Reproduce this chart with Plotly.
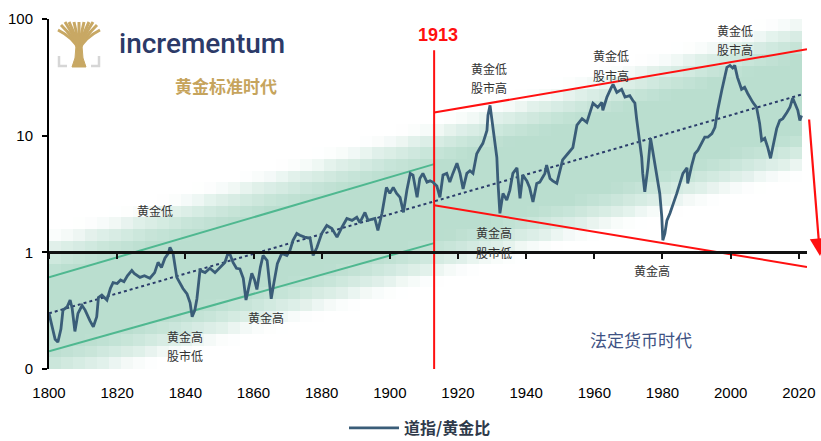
import numpy as np
import plotly.graph_objects as go

# Dow / gold ratio, 1800-2021 (year, ratio)
years = [
    1800.0, 1800.8, 1801.8, 1802.6, 1803.5, 1804.1, 1805.3, 1806.2, 1806.8, 1807.6,
    1808.5, 1809.7, 1810.6, 1812.0, 1813.0, 1814.0, 1814.5, 1815.5, 1817.0, 1818.0,
    1818.8, 1820.0, 1821.0, 1822.0, 1823.0, 1824.3, 1825.0, 1826.7, 1828.0, 1829.6,
    1831.0, 1832.0, 1833.0, 1834.0, 1835.0, 1835.5, 1836.4, 1837.5, 1838.4, 1839.3,
    1840.5, 1841.4, 1842.0, 1842.8, 1843.4, 1844.3, 1845.8, 1847.2, 1848.7, 1850.2,
    1851.6, 1852.5, 1853.0, 1854.0, 1855.0, 1856.0, 1857.0, 1857.8, 1858.5, 1859.5,
    1860.3, 1861.0, 1862.0, 1862.8, 1864.0, 1864.6, 1865.2, 1866.0, 1867.0, 1868.3,
    1869.8, 1870.7, 1871.6, 1872.7, 1873.6, 1875.0, 1876.6, 1877.5, 1878.6, 1880.0,
    1881.5, 1883.0, 1884.5, 1886.0, 1887.4, 1888.9, 1890.3, 1891.2, 1892.7, 1893.6,
    1895.6, 1896.5, 1897.7, 1899.0, 1900.0, 1901.0, 1902.0, 1903.0, 1904.0, 1905.0,
    1906.0, 1906.8, 1908.0, 1908.8, 1909.7, 1910.9, 1911.8, 1912.6, 1913.8, 1914.7,
    1915.6, 1916.7, 1917.6, 1918.5, 1919.7, 1920.6, 1921.5, 1922.6, 1923.5, 1924.4,
    1925.5, 1926.4, 1927.3, 1928.5, 1928.8, 1929.4, 1929.9, 1930.2, 1931.4, 1931.7,
    1932.3, 1933.2, 1934.3, 1935.2, 1936.1, 1937.3, 1938.2, 1939.0, 1940.2, 1941.0,
    1942.0, 1943.1, 1944.0, 1945.5, 1946.0, 1947.0, 1947.8, 1949.0, 1949.9, 1950.7,
    1952.2, 1953.7, 1954.9, 1956.4, 1957.8, 1958.7, 1959.6, 1961.0, 1962.2, 1962.5,
    1963.7, 1965.0, 1965.5, 1966.6, 1968.0, 1969.0, 1970.4, 1971.3, 1971.9, 1972.4,
    1973.3, 1973.9, 1974.2, 1974.8, 1975.7, 1976.5, 1977.1, 1978.3, 1979.2, 1979.8,
    1980.1, 1980.7, 1981.3, 1982.2, 1983.0, 1984.2, 1985.1, 1986.0, 1987.2, 1987.4,
    1988.6, 1989.5, 1990.4, 1991.5, 1992.4, 1993.3, 1994.5, 1995.4, 1996.2, 1997.4,
    1998.3, 1998.9, 1999.8, 2000.6, 2001.2, 2002.0, 2003.2, 2004.1, 2005.0, 2006.5,
    2007.6, 2008.5, 2009.1, 2010.0, 2010.9, 2011.7, 2012.3, 2013.5, 2014.4, 2015.3,
    2016.5, 2017.4, 2018.2, 2018.8, 2019.7, 2020.3, 2020.8,
]
ratio = [
    0.30, 0.24, 0.18, 0.17, 0.22, 0.32, 0.34, 0.39, 0.33, 0.21,
    0.30, 0.35, 0.32, 0.26, 0.23, 0.28, 0.41, 0.43, 0.39, 0.49,
    0.55, 0.54, 0.58, 0.56, 0.63, 0.70, 0.66, 0.61, 0.63, 0.60,
    0.67, 0.82, 0.74, 0.89, 0.98, 1.10, 0.98, 0.61, 0.55, 0.49,
    0.44, 0.37, 0.28, 0.32, 0.40, 0.70, 0.67, 0.73, 0.67, 0.74,
    0.82, 0.98, 0.98, 0.82, 0.73, 0.72, 0.60, 0.39, 0.50, 0.66,
    0.58, 0.48, 0.74, 0.94, 0.85, 0.60, 0.40, 0.55, 0.80, 0.98,
    0.94, 1.04, 1.27, 1.45, 1.40, 1.35, 1.32, 0.94, 1.10, 1.45,
    1.70, 1.60, 1.35, 1.65, 1.95, 1.88, 2.00, 1.80, 2.20, 1.88,
    1.95, 1.54, 2.16, 3.60, 3.20, 3.60, 3.20, 2.96, 2.20, 3.40,
    4.75, 4.60, 2.96, 4.30, 4.75, 4.00, 4.10, 4.00, 3.70, 2.96,
    4.60, 4.75, 4.00, 4.75, 5.80, 4.75, 3.50, 4.75, 5.00, 4.75,
    7.00, 7.80, 8.60, 11.1, 15.0, 18.2, 14.0, 11.1, 6.5, 4.1,
    2.16, 3.2, 2.8, 3.4, 4.75, 5.3, 2.9, 4.6, 4.1, 3.6,
    2.7, 3.9, 4.0, 4.75, 5.6, 4.3, 4.1, 3.9, 5.0, 6.2,
    7.0, 7.9, 12.3, 14.0, 13.0, 15.8, 19.0, 17.5, 19.3, 16.5,
    21.4, 25.9, 27.5, 23.5, 25.0, 21.4, 22.0, 20.0, 19.0, 14.0,
    9.1, 6.5, 4.75, 3.3, 5.3, 9.5, 7.5, 4.4, 3.2, 2.0,
    1.27, 1.45, 1.88, 2.16, 2.5, 3.2, 3.9, 4.75, 5.3, 3.9,
    5.6, 7.0, 7.5, 8.6, 9.7, 9.7, 10.4, 11.8, 16.5, 24.5,
    31.6, 38.5, 40.0, 38.0, 40.0, 31.6, 25.0, 26.0, 23.0, 19.3,
    17.5, 12.7, 9.1, 9.5, 7.9, 6.4, 7.8, 11.5, 13.5, 14.0,
    15.8, 17.5, 21.0, 19.3, 16.5, 13.5, 14.9,
]

# long-run trend (dotted)
trend_years = [1800, 2021]
trend_vals = [0.30, 22.6]

# gold-standard channel (green)
gs_years = [1800, 1913]
gs_upper = [0.61, 5.7]
gs_lower = [0.142, 1.20]

# fiat-era broadening channel (red)
fiat_years = [1913, 2022.4]
fiat_upper = [15.8, 55.0]
fiat_lower = [2.53, 0.75]

split_year = 1913
split_top = 54.0

x_ticks = list(range(1800, 2021, 20))
y_ticks = [0.1, 1, 10, 100]
y_ticktext = ["0", "1", "10", "100"]

LINE = "#3a5d78"
GREEN = "#4fb890"
RED = "#ff1010"
CJK = "Noto Sans CJK SC"
LAT = "Liberation Sans, Arial, sans-serif"

W, H = 821, 441
ML, MR, MT, MB = 49, 14, 19, 72
PW, PH = W - ML - MR, H - MT - MB


def P(X, Y):
    """pixel position -> paper coordinates"""
    return (X - ML) / PW, (H - MB - Y) / PH


fig = go.Figure()

# soft glow around the trend: cells shaded by log-distance from the trend line
xe = np.linspace(1800, 2021, 64)
ye = np.linspace(-1, 2, 31)
xc = (xe[:-1] + xe[1:]) / 2
yc = (ye[:-1] + ye[1:]) / 2
tr_log = np.interp(xc, trend_years, np.log10(trend_vals))
dist = np.abs(yc[:, None] - tr_log[None, :])
glow = np.clip((0.74 - dist) / 0.42, 0, 1) ** 1.2
fig.add_trace(go.Heatmap(
    x=xe, y=10 ** ye, z=glow, zmin=0, zmax=1, showscale=False,
    colorscale=[[0, "rgba(255,255,255,0)"], [0.35, "rgba(226,241,235,1)"],
                [0.7, "rgb(200,229,217)"], [1, "rgb(186,222,207)"]],
    hoverinfo="skip", zsmooth=False,
))

# channels
for yy, vals, col in [
    (gs_years, gs_upper, GREEN), (gs_years, gs_lower, GREEN),
    (fiat_years, fiat_upper, RED), (fiat_years, fiat_lower, RED),
]:
    fig.add_trace(go.Scatter(x=yy, y=vals, mode="lines", line=dict(color=col, width=2),
                             showlegend=False, hoverinfo="skip"))

fig.add_trace(go.Scatter(x=[split_year, split_year], y=[0.1, split_top], mode="lines",
                         line=dict(color=RED, width=2), showlegend=False, hoverinfo="skip"))

# trend
fig.add_trace(go.Scatter(x=trend_years, y=trend_vals, mode="lines",
                         line=dict(color="#2b3d6b", width=2, dash="dot"),
                         showlegend=False, hoverinfo="skip"))

# ratio
fig.add_trace(go.Scatter(x=years, y=ratio, mode="lines", name="道指/黄金比",
                         line=dict(color=LINE, width=2.8)))

# carrier for the axis drawn through ratio = 1
fig.add_trace(go.Scatter(x=[1800], y=[1], xaxis="x2", mode="markers",
                         marker=dict(opacity=0), showlegend=False, hoverinfo="skip"))

ann = []


def txt(X, Y, s, size=12, color="#333333", family=CJK, weight="normal"):
    px, py = P(X, Y)
    ann.append(dict(x=px, y=py, xref="paper", yref="paper", text=s, showarrow=False,
                    xanchor="center", yanchor="middle",
                    font=dict(family=family, size=size, color=color, weight=weight)))


txt(202, 43, "incrementum", size=28, color="#2c3a68", family="Roboto, Lato, sans-serif", weight=500)
txt(226, 85, "黄金标准时代", size=17, color="#c6a45c", weight="bold")
txt(438, 35, "1913", size=18, color=RED, family=LAT, weight="bold")
txt(155, 210, "黄金低")
txt(185, 336, "黄金高")
txt(185, 355, "股市低")
txt(266, 317, "黄金高")
txt(489, 68, "黄金低")
txt(489, 87, "股市高")
txt(611, 55, "黄金低")
txt(611, 75, "股市高")
txt(735, 30, "黄金低")
txt(735, 50, "股市高")
txt(494, 232, "黄金高")
txt(494, 252, "股市低")
txt(652, 270, "黄金高")
txt(641, 339, "法定货币时代", size=17, color="#3e5283")

# arrow at the right edge
hx, hy = P(824, 256)
ann.append(dict(x=hx, y=hy, xref="paper", yref="paper", ax=-15, ay=-138, axref="pixel", ayref="pixel",
                text="", showarrow=True, arrowhead=2, arrowsize=1.6, arrowwidth=2.2, arrowcolor=RED))

# logo: tree and corner brackets
GOLD = "#c8a864"
shapes = []


def pp(X, Y):
    a, b = P(X, Y)
    return f"{a:.5f},{b:.5f}"


trunk = f"M {pp(72,67)} L {pp(86,67)} L {pp(83,58)} L {pp(82,46)} L {pp(76,46)} L {pp(75,58)} Z"
shapes.append(dict(type="path", xref="paper", yref="paper", path=trunk,
                   fillcolor=GOLD, line=dict(color=GOLD, width=1)))
ends = [(58, 30), (61, 25), (65, 22), (69, 22), (74, 22), (79, 22), (84, 22), (89, 22),
        (93, 22), (97, 25), (100, 30)]
for ex, ey in ends:
    cx = 79 + (ex - 79) * 0.25
    d = f"M {pp(79,50)} Q {pp(cx,38)} {pp(ex,ey)}"
    shapes.append(dict(type="path", xref="paper", yref="paper", path=d,
                       line=dict(color=GOLD, width=3)))
for d in [f"M {pp(59,56)} L {pp(59,66)} L {pp(67,66)}", f"M {pp(99,56)} L {pp(99,66)} L {pp(91,66)}"]:
    shapes.append(dict(type="path", xref="paper", yref="paper", path=d,
                       line=dict(color="#d6d6d6", width=2.5)))

lx = (420 - ML) / PW
fig.update_layout(
    width=W, height=H,
    margin=dict(l=ML, r=MR, t=MT, b=MB, pad=0, autoexpand=False),
    paper_bgcolor="white", plot_bgcolor="white",
    annotations=ann, shapes=shapes,
    showlegend=True,
    legend=dict(orientation="h", x=lx, xanchor="center", yref="container",
                y=(H - 428) / H, yanchor="middle",
                font=dict(family=CJK, size=16, color="#2f3a4a", weight="bold"),
                itemwidth=50, bgcolor="rgba(0,0,0,0)", borderwidth=0),
    xaxis=dict(range=[1800, 2022.4], tickvals=x_ticks, showline=False, showgrid=False,
               zeroline=False, ticks="outside", ticklen=10, tickcolor="rgba(0,0,0,0)",
               tickfont=dict(family=LAT, size=15, color="#000")),
    xaxis2=dict(overlaying="x", matches="x", anchor="free", position=1 / 3, side="bottom",
                tickvals=x_ticks, showline=True, linecolor="#111", linewidth=3,
                ticks="outside", ticklen=5, tickwidth=2, tickcolor="#111",
                showticklabels=False, showgrid=False, zeroline=False),
    yaxis=dict(type="log", range=[-1, 2], tickvals=y_ticks, ticktext=y_ticktext,
               showline=True, linecolor="#000", linewidth=2, ticks="outside", ticklen=5,
               tickwidth=2, tickcolor="#000", showgrid=False, zeroline=False,
               ticklabelstandoff=6,
               tickfont=dict(family=LAT, size=15, color="#000")),
)

fig.write_html("out.html")
